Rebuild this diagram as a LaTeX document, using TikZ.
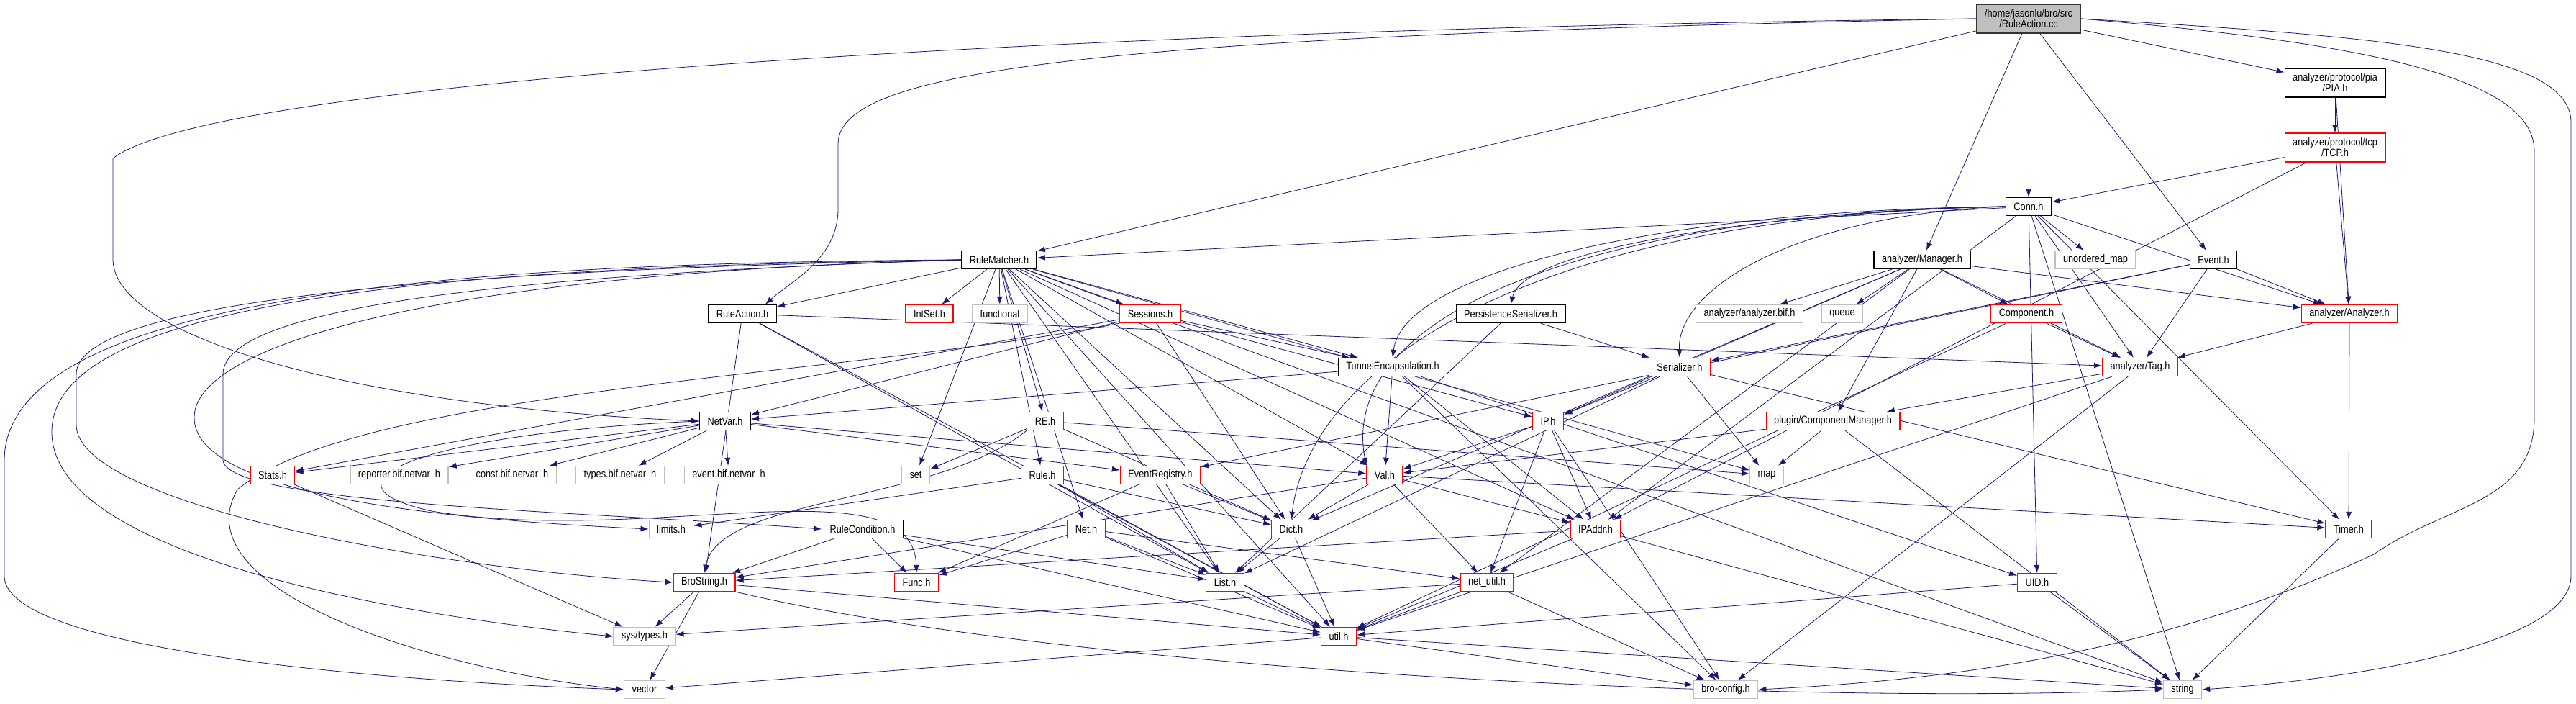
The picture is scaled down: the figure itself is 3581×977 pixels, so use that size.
\documentclass[tikz,border=0pt]{standalone}
\usepackage{fontspec}
\newfontfamily\dotfont{Liberation Sans}[FakeStretch=0.85]
\usetikzlibrary{arrows.meta}
\definecolor{edgeblue}{HTML}{191970}
\definecolor{grey75}{HTML}{BFBFBF}
\pgfdeclarelayer{edges}
\pgfsetlayers{edges,main}
\begin{document}
\begin{tikzpicture}[x=1pt, y=-1pt, font={\dotfont\fontsize{15pt}{15pt}\selectfont},
      >={Latex[length=11pt,width=8pt]},
      hdr/.style={draw, line width=1.3pt, inner xsep=11pt, inner ysep=0pt, minimum height=25pt, align=center, fill=white},
      docnode/.style={hdr, draw=black},
      rednode/.style={hdr, draw=red},
      extnode/.style={hdr, draw=grey75},
      rootnode/.style={hdr, draw=black!80, fill=grey75, minimum height=40pt},
      incl/.style={->, draw=edgeblue, line width=0.8pt}]
    \useasboundingbox (0,0) rectangle (3581,977);
    % top rows
    \node[rootnode] (root) at (2820,26) {/home/jasonlu/bro/src\\/RuleAction.cc};
    \node[docnode, minimum height=40pt] (pia) at (3246,115) {analyzer/protocol/pia\\/PIA.h};
    \node[rednode, minimum height=40pt] (tcp) at (3246,205) {analyzer/protocol/tcp\\/TCP.h};
    \node[docnode] (conn) at (2820,287) {Conn.h};
    \node[docnode] (rmatch) at (1389,361) {RuleMatcher.h};
    \node[docnode] (amgr) at (2672,361) {analyzer/Manager.h};
    \node[extnode] (umap) at (2913,361) {unordered\_map};
    \node[docnode] (event) at (3077,361) {Event.h};
    \node[docnode] (ract) at (1032,436) {RuleAction.h};
    \node[rednode] (intset) at (1292,436) {IntSet.h};
    \node[extnode] (functional) at (1390,436) {functional};
    \node[rednode] (sessions) at (1599,436) {Sessions.h};
    \node[docnode] (pser) at (2100,436) {PersistenceSerializer.h};
    \node[extnode] (abif) at (2432,436) {analyzer/analyzer.bif.h};
    \node[extnode] (queue) at (2561,436) {queue};
    \node[rednode] (component) at (2817,436) {Component.h};
    \node[rednode] (analyzer) at (3266,436) {analyzer/Analyzer.h};
    \node[docnode] (tunnel) at (1936,510) {TunnelEncapsulation.h};
    \node[rednode] (serializer) at (2335,510) {Serializer.h};
    \node[rednode] (tag) at (2975,510) {analyzer/Tag.h};
    \node[docnode] (netvar) at (1008,585) {NetVar.h};
    \node[rednode] (re) at (1453,585) {RE.h};
    \node[rednode] (ip) at (2152,585) {IP.h};
    \node[rednode] (cmgr) at (2548,585) {plugin/ComponentManager.h};
    % middle rows
    \node[rednode] (stats) at (379,660) {Stats.h};
    \node[extnode] (rbif) at (555,660) {reporter.bif.netvar\_h};
    \node[extnode] (cbif) at (712,660) {const.bif.netvar\_h};
    \node[extnode] (tbif) at (862,660) {types.bif.netvar\_h};
    \node[extnode] (ebif) at (1013,660) {event.bif.netvar\_h};
    \node[extnode] (set) at (1273,660) {set};
    \node[rednode] (rule) at (1449,660) {Rule.h};
    \node[rednode] (evreg) at (1613,660) {EventRegistry.h};
    \node[rednode] (val) at (1925,660) {Val.h};
    \node[extnode] (map) at (2456,660) {map};
    \node[extnode] (limits) at (933,735) {limits.h};
    \node[docnode] (rcond) at (1199,735) {RuleCondition.h};
    \node[rednode] (net) at (1510,735) {Net.h};
    \node[rednode] (dict) at (1795,735) {Dict.h};
    \node[rednode] (ipaddr) at (2218,735) {IPAddr.h};
    \node[rednode] (timer) at (3265,735) {Timer.h};
    % bottom rows
    \node[rednode] (brostr) at (979,809) {BroString.h};
    \node[rednode] (func) at (1274,809) {Func.h};
    \node[rednode] (list) at (1703,809) {List.h};
    \node[rednode] (netutil) at (2067,809) {net\_util.h};
    \node[rednode] (uid) at (2832,809) {UID.h};
    \node[extnode] (systypes) at (896,884) {sys/types.h};
    \node[rednode] (util) at (1861,884) {util.h};
    \node[extnode] (vector) at (896,958) {vector};
    \node[extnode] (broconfig) at (2399,958) {bro-config.h};
    \node[extnode] (string) at (3034,958) {string};
    \begin{pgfonlayer}{edges}
    % RuleAction.cc
    \foreach \t in {conn,amgr,event,pia,rmatch} \draw[incl] (root) -- (\t);
    \draw[incl] (root.west) .. controls (1500,40) and (300,110) .. (157,220) -- (157,360) .. controls (157,470) and (500,565) .. (netvar.west);
    \draw[incl] (root.west) .. controls (1500,50) and (1165,100) .. (1165,200) -- (1165,290) .. controls (1165,360) and (1100,390) .. ([xshift=-16pt]ract.north east);
    \draw[incl] (root.east) .. controls (3300,50) and (3574,70) .. (3574,170) -- (3574,800) .. controls (3574,900) and (3250,945) .. (string.east);
    \draw[incl] (root.east) .. controls (3300,60) and (3523,110) .. (3523,210) -- (3523,580) .. controls (3523,700) and (3400,700) .. (3300,770) .. controls (3000,910) and (2700,945) .. (broconfig.east);
    % analyzers and Conn.h
    \foreach \t in {tcp,analyzer} \draw[incl] (pia) -- (\t);
    \foreach \t in {conn,analyzer,ipaddr} \draw[incl] (tcp) -- (\t);
    \foreach \t in {rmatch,umap,tag,analyzer,timer,uid,ipaddr,string} \draw[incl] (conn) -- (\t);
    \draw[incl] (conn.west) .. controls (2500,292) and (2120,340) .. (pser.north);
    \draw[incl] (conn.west) .. controls (2500,298) and (2330,400) .. (serializer.north);
    \draw[incl] (conn.west) .. controls (2300,292) and (1950,380) .. (tunnel.north);
    \draw[incl] (conn.west) .. controls (2200,296) and (1860,440) .. (val.north west);
    \draw[incl] (conn.west) .. controls (2100,300) and (1820,520) .. (dict.north);
    \foreach \t in {abif,queue,component,analyzer,tag,cmgr,netutil,ip,dict} \draw[incl] (amgr) -- (\t);
    \foreach \t in {evreg,serializer,tag,analyzer} \draw[incl] (event) -- (\t);
    % RuleMatcher.h
    \foreach \t in {ract,intset,functional,sessions,re,set,rule,net,dict,list,util,val,ipaddr,map,string,tunnel} \draw[incl] (rmatch) -- (\t);
    \draw[incl] (rmatch.west) .. controls (700,365) and (6,400) .. (6,640) -- (6,800) .. controls (6,900) and (500,945) .. (vector.west);
    \draw[incl] (rmatch.west) .. controls (600,370) and (72,420) .. (72,600) .. controls (72,780) and (600,860) .. (systypes.west);
    \draw[incl] (rmatch.west) .. controls (600,375) and (106,420) .. (106,520) -- (106,590) .. controls (106,700) and (600,790) .. (brostr.west);
    \draw[incl] (rmatch.west) .. controls (600,380) and (270,480) .. (270,580) .. controls (270,700) and (700,725) .. (limits.west);
    \draw[incl] (rmatch.west) .. controls (600,385) and (310,440) .. (310,520) -- (310,640) .. controls (320,700) and (800,710) .. (rcond.west);
    % RuleAction.h, Sessions.h and friends
    \foreach \t in {tag,brostr,list,util} \draw[incl] (ract) -- (\t);
    \foreach \t in {netvar,stats,dict,tunnel,ip} \draw[incl] (sessions) -- (\t);
    \draw[incl] (sessions.south west) .. controls (1200,520) and (500,540) .. (330,680) .. controls (250,820) and (600,930) .. (vector.west);
    \foreach \t in {netvar,val,ipaddr,uid,broconfig} \draw[incl] (tunnel) -- (\t);
    \foreach \t in {serializer,list} \draw[incl] (pser) -- (\t);
    \foreach \t in {ip,map,timer,list} \draw[incl] (serializer) -- (\t);
    \foreach \t in {tag,util} \draw[incl] (component) -- (\t);
    \foreach \t in {tag,timer} \draw[incl] (analyzer) -- (\t);
    \foreach \t in {cmgr,util,broconfig} \draw[incl] (tag) -- (\t);
    \foreach \t in {val,map,string} \draw[incl] (cmgr) -- (\t);
    \foreach \t in {val,ipaddr,netutil,broconfig} \draw[incl] (ip) -- (\t);
    \foreach \t in {brostr,dict,netutil,ipaddr,timer} \draw[incl] (val) -- (\t);
    % NetVar.h
    \foreach \t in {stats,rbif,cbif,tbif,ebif,val,evreg} \draw[incl] (netvar) -- (\t);
    \draw[incl] (netvar.west) .. controls (600,600) and (420,670) .. (600,710) .. controls (900,760) and (1270,640) .. (func.north);
    % lower headers
    \foreach \t in {set,dict,map} \draw[incl] (re) -- (\t);
    \draw[incl] (re.south west) .. controls (1300,700) and (1000,690) .. (brostr.north);
    \foreach \t in {limits,list,dict,util} \draw[incl] (rule) -- (\t);
    \foreach \t in {func,list,dict} \draw[incl] (evreg) -- (\t);
    \foreach \t in {func,list,util,netutil} \draw[incl] (net) -- (\t);
    \foreach \t in {brostr,func,list,util} \draw[incl] (rcond) -- (\t);
    \foreach \t in {list,util} \draw[incl] (dict) -- (\t);
    \draw[incl] (list) -- (util);
    \draw[incl] (stats) -- (systypes);
    \foreach \t in {systypes,vector,util} \draw[incl] (brostr) -- (\t);
    \draw[incl] (brostr.south east) .. controls (1500,935) and (2500,980) .. (string.west);
    \foreach \t in {vector,broconfig,string} \draw[incl] (util) -- (\t);
    \foreach \t in {util,broconfig,systypes} \draw[incl] (netutil) -- (\t);
    \foreach \t in {brostr,util,string} \draw[incl] (ipaddr) -- (\t);
    \foreach \t in {util,string} \draw[incl] (uid) -- (\t);
    \draw[incl] (timer) -- (string);
    \end{pgfonlayer}
  \end{tikzpicture}
\end{document}
